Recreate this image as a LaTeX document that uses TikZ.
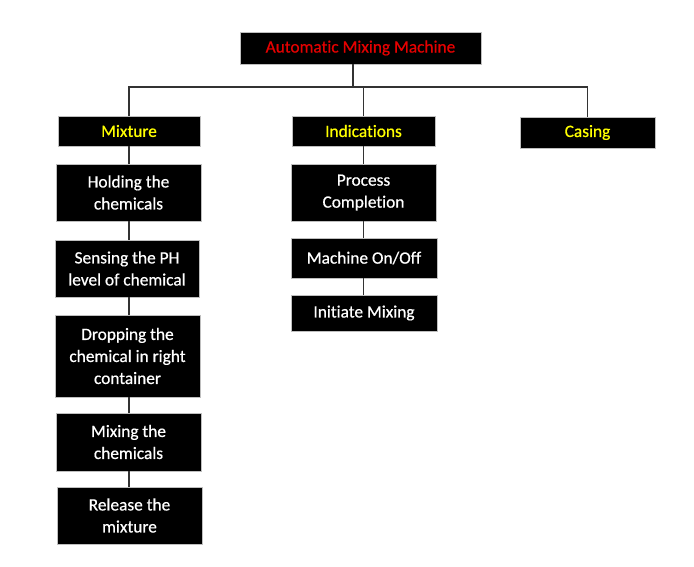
\documentclass[tikz,border=0pt]{standalone}
\usepackage{fontspec}
\setmainfont{Carlito}[Ligatures=CommonOff, FakeBold=0.6]
\begin{document}
\begin{tikzpicture}[x=0.75pt, y=-0.75pt,
	blk/.style={fill=black, draw=black!25, line width=0.6pt, text=white, align=center, inner sep=0pt, font=\fontsize{13}{16.5}\selectfont},
	link/.style={draw=black!80, line width=1.2pt}]
	\useasboundingbox (0,0) rectangle (694,567);
	% top and second level
	\node[blk, minimum width=180.75pt, minimum height=24pt, text={rgb,255:red,230;green,0;blue,0}] (top) at (360.5,48) {Automatic Mixing Machine};
	\node[blk, minimum width=106.5pt, minimum height=22.5pt, text={rgb,255:red,255;green,255;blue,0}] (mix) at (129,131) {Mixture};
	\node[blk, minimum width=107.25pt, minimum height=22.5pt, text={rgb,255:red,255;green,255;blue,0}] (ind) at (363.5,131) {Indications};
	\node[blk, minimum width=101.25pt, minimum height=23.25pt, text={rgb,255:red,255;green,255;blue,0}] (cas) at (587.5,132.5) {Casing};
	
	% mixture column
	\node[blk, minimum width=108.75pt, minimum height=42.75pt] (hold) at (128.5,192.5) {Holding the\\chemicals};
	\node[blk, minimum width=108pt, minimum height=42.75pt] (sens) at (127,268.5) {Sensing the PH\\level of chemical};
	\node[blk, minimum width=108.75pt, minimum height=61.5pt] (drop) at (127.5,356) {Dropping the\\chemical in right\\container};
	\node[blk, minimum width=108.75pt, minimum height=43.5pt] (mixg) at (128.5,442) {Mixing the\\chemicals};
	\node[blk, minimum width=108.75pt, minimum height=42.75pt] (rel) at (129.5,515.5) {Release the\\mixture};
	
	% indications column
	\node[blk, minimum width=108.75pt, minimum height=42.75pt] (proc) at (363.5,192.5) {Process\\Completion};
	\node[blk, minimum width=109.5pt, minimum height=30pt] (mach) at (364,258) {Machine On/Off};
	\node[blk, minimum width=109.5pt, minimum height=27pt] (init) at (364,313) {Initiate Mixing};
	
	\coordinate (bar) at (353,87);
	\draw[link] (top.south -| bar) -- (bar);
	\draw[link] (mix.north) |- (bar) -| (cas.north);
	\draw[link] (bar) -| (ind.north);
	\foreach \a/\b/\c in {mix/hold/mix,hold/sens/mix,sens/drop/mix,drop/mixg/mix,mixg/rel/mix,ind/proc/ind,proc/mach/ind,mach/init/ind}
	{
		\draw[link] (\a.south -| \c) -- (\b.north -| \c);
	}
\end{tikzpicture}
\end{document}
